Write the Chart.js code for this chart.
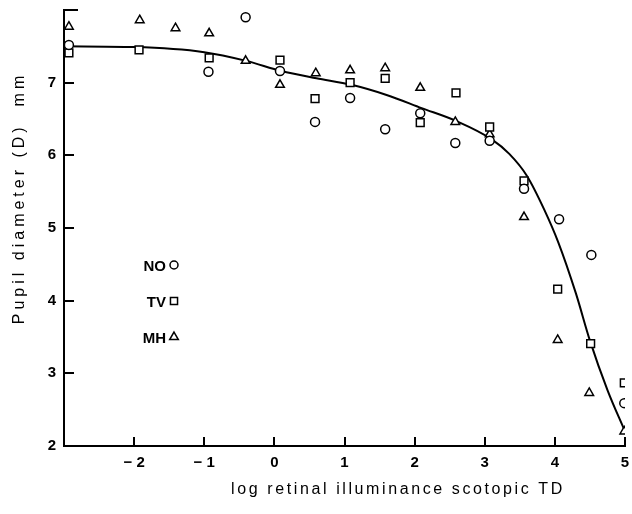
<!DOCTYPE html>
<html>
<head>
<meta charset="utf-8">
<script src="https://cdn.jsdelivr.net/npm/chart.js@4.4.0/dist/chart.umd.min.js"></script>
<style>
  html, body { margin: 0; padding: 0; background: #fff; }
</style>
</head>
<body>
<canvas id="myChart" width="632" height="514"></canvas>
<script>
// subject NO (circles)
var noX = [-2.93, -0.94, -0.41, 0.08, 0.58, 1.08, 1.58, 2.08, 2.58, 3.07, 3.56, 4.06, 4.52, 4.99];
var noY = [7.52, 7.15, 7.90, 7.16, 6.46, 6.79, 6.36, 6.58, 6.17, 6.20, 5.54, 5.12, 4.63, 2.59];
// subject TV (squares)
var tvX = [-2.93, -1.93, -0.93, 0.08, 0.58, 1.08, 1.58, 2.08, 2.59, 3.07, 3.56, 4.04, 4.51, 4.99];
var tvY = [7.41, 7.45, 7.34, 7.31, 6.78, 7.00, 7.06, 6.45, 6.86, 6.39, 5.65, 4.16, 3.41, 2.87];
// subject MH (triangles)
var mhX = [-2.93, -1.92, -1.41, -0.93, -0.41, 0.08, 0.59, 1.08, 1.58, 2.08, 2.58, 3.07, 3.56, 4.04, 4.49, 4.99];
var mhY = [7.77, 7.86, 7.75, 7.68, 7.30, 6.97, 7.13, 7.17, 7.20, 6.93, 6.46, 6.29, 5.15, 3.46, 2.73, 2.20];
// fitted curve
var curveX = [-3, -2, -1, -0.4, 0.1, 0.6, 1.1, 1.6, 2.1, 2.6, 3.1, 3.35, 3.6, 3.85, 4.05, 4.3, 4.5, 4.75, 5.0];
var curveY = [7.50, 7.49, 7.42, 7.30, 7.16, 7.06, 6.97, 6.83, 6.65, 6.47, 6.22, 6.02, 5.72, 5.25, 4.80, 4.10, 3.45, 2.77, 2.20];

var xTicks = [-2, -1, 0, 1, 2, 3, 4, 5];
var yTicks = [3, 4, 5, 6, 7, 8];
var legendNames = ['NO', 'TV', 'MH'];
var legendStyles = ['circle', 'rect', 'triangle'];

function pts(xs, ys) {
    return xs.map(function (x, i) { return { x: x, y: ys[i] }; });
}

Chart.defaults.font.family = '"Liberation Sans", Arial, sans-serif';
Chart.defaults.color = '#000';

// inward tick marks, axis titles and the little legend
var decorations = {
    id: 'decorations',
    afterDraw: function (chart) {
        var ctx = chart.ctx;
        var area = chart.chartArea;
        var sx = chart.scales.x, sy = chart.scales.y;
        ctx.save();
        ctx.strokeStyle = '#000';
        ctx.lineWidth = 2;
        ctx.beginPath();
        yTicks.forEach(function (v) {
            var py = Math.round(sy.getPixelForValue(v));
            ctx.moveTo(area.left, py);
            ctx.lineTo(area.left + (v === 8 ? 14 : 10), py);
        });
        xTicks.forEach(function (v) {
            var px = Math.round(sx.getPixelForValue(v));
            ctx.moveTo(px, area.bottom);
            ctx.lineTo(px, area.bottom - 9);
        });
        ctx.stroke();

        ctx.fillStyle = '#000';
        ctx.textAlign = 'center';
        ctx.textBaseline = 'middle';
        ctx.font = '16px "Liberation Sans", Arial, sans-serif';
        ctx.letterSpacing = '2.6px';
        ctx.fillText('log retinal illuminance scotopic TD', area.left + 334, area.bottom + 44);

        ctx.save();
        ctx.translate(area.left - 44, area.top + 188);
        ctx.rotate(-Math.PI / 2);
        ctx.letterSpacing = '4px';
        ctx.fillText('Pupil diameter (D)  mm', 0, 0);
        ctx.restore();

        ctx.letterSpacing = '0px';
        ctx.textAlign = 'right';
        ctx.font = 'bold 15px "Liberation Sans", Arial, sans-serif';
        legendNames.forEach(function (name, i) {
            var ly = area.top + 257 + i * 36;
            ctx.fillStyle = '#000';
            ctx.fillText(name, area.left + 102, ly);
            ctx.fillStyle = '#fff';
            ctx.strokeStyle = '#000';
            ctx.lineWidth = 1.5;
            Chart.helpers.drawPoint(ctx, {
                pointStyle: legendStyles[i],
                radius: legendStyles[i] === 'circle' ? 4 : 5,
                rotation: 0,
                borderWidth: 1.5
            }, area.left + 110, ly - 2);
        });
        ctx.restore();
    }
};

var ctx = document.getElementById('myChart').getContext('2d');
new Chart(ctx, {
    type: 'scatter',
    data: {
        datasets: [{
            label: 'NO',
            data: pts(noX, noY),
            pointStyle: 'circle',
            pointRadius: 4.5,
            pointBorderWidth: 1.5,
            borderColor: '#000',
            backgroundColor: '#fff'
        }, {
            label: 'TV',
            data: pts(tvX, tvY),
            pointStyle: 'rect',
            pointRadius: 5.5,
            pointBorderWidth: 1.5,
            borderColor: '#000',
            backgroundColor: '#fff'
        }, {
            label: 'MH',
            data: pts(mhX, mhY),
            pointStyle: 'triangle',
            pointRadius: 5,
            pointBorderWidth: 1.5,
            borderColor: '#000',
            backgroundColor: '#fff'
        }, {
            label: 'fit',
            type: 'line',
            data: pts(curveX, curveY),
            showLine: true,
            pointRadius: 0,
            borderColor: '#000',
            borderWidth: 2,
            cubicInterpolationMode: 'monotone',
            fill: false
        }]
    },
    options: {
        responsive: false,
        animation: false,
        layout: { padding: { top: 10, right: 1, left: 0, bottom: 0 } },
        plugins: {
            legend: { display: false },
            tooltip: { enabled: false }
        },
        scales: {
            x: {
                type: 'linear',
                min: -3,
                max: 5,
                ticks: {
                    stepSize: 1,
                    padding: 8,
                    font: { size: 15, weight: 'bold' },
                    callback: function (v) { return v === -3 ? '' : String(v).replace('-', '\u2212 '); }
                },
                grid: { drawOnChartArea: false, drawTicks: false },
                border: { color: '#000', width: 2 },
                afterFit: function (s) { s.height = 68; s.paddingLeft = 0; s.paddingRight = 0; }
            },
            y: {
                min: 2,
                max: 8,
                ticks: {
                    stepSize: 1,
                    padding: 8,
                    font: { size: 15, weight: 'bold' },
                    callback: function (v) { return v === 8 ? '' : v; }
                },
                grid: { drawOnChartArea: false, drawTicks: false },
                border: { color: '#000', width: 2 },
                afterFit: function (s) { s.width = 64; s.paddingTop = 0; s.paddingBottom = 0; }
            }
        }
    },
    plugins: [decorations]
});
</script>
</body>
</html>
